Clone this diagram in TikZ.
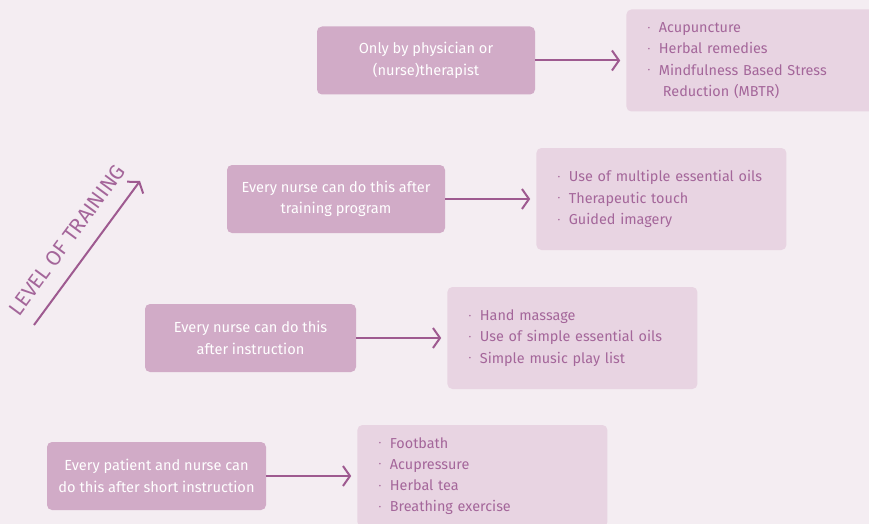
\documentclass[tikz,border=0pt]{standalone}
\usepackage{fontspec}
\setmainfont{Fira Sans}
\usetikzlibrary{arrows.meta, positioning}

\definecolor{bgpink}{HTML}{F4EDF2}
\definecolor{darkmauve}{HTML}{D1ABC7}
\definecolor{lightmauve}{HTML}{E8D4E2}
\definecolor{plum}{HTML}{A4669A}
\definecolor{arrowplum}{HTML}{9E5A90}

\newcommand{\itm}[1]{\makebox[11pt][l]{\raisebox{0.3ex}{\scriptsize\textbullet}}#1}

\begin{document}
\begin{tikzpicture}[
    x=1pt, y=-1pt,
    who/.style={fill=darkmauve, rounded corners=5pt, minimum height=68pt, align=center, text=white, font=\fontsize{14.6}{21.5}\selectfont},
    what/.style={fill=lightmauve, rounded corners=5pt, minimum width=250pt, minimum height=102pt, text width=207pt, align=left, text=plum, font=\fontsize{14.4}{21.2}\selectfont},
    arrow/.style={-{Straight Barb[length=7pt, width=20pt, line width=2pt]}, line width=2pt, draw=arrowplum, shorten >=6pt}
]
    \clip (0,0) rectangle (869,524);
    \fill[bgpink] (0,0) rectangle (869,524);

    % Who may apply it
    \node[who, minimum width=218pt] (physician) at (426,60.5) {Only by physician or\\(nurse)therapist};
    \node[who, minimum width=218pt] (training)  at (336,199)  {Every nurse can do this after\\training program};
    \node[who, minimum width=211pt] (instruct)  at (250.5,338) {Every nurse can do this\\after instruction};
    \node[who, minimum width=219pt] (patient)   at (156.5,476) {Every patient and nurse can\\do this after short instruction};

    % Interventions
    \node[what, right=91pt of physician] (listA) {\itm{Acupuncture}\\\itm{Herbal remedies}\\\itm{Mindfulness Based Stress}\\\hspace*{15pt}Reduction (MBTR)};
    \node[what, right=91pt of training]  (listB) {\itm{Use of multiple essential oils}\\\itm{Therapeutic touch}\\\itm{Guided imagery}};
    \node[what, right=91pt of instruct]  (listC) {\itm{Hand massage}\\\itm{Use of simple essential oils}\\\itm{Simple music play list}};
    \node[what, right=91pt of patient]   (listD) {\itm{Footbath}\\\itm{Acupressure}\\\itm{Herbal tea}\\\itm{Breathing exercise}};

    % Arrows
    \draw[arrow] (physician) -- (listA);
    \draw[arrow] (training)  -- (listB);
    \draw[arrow] (instruct)  -- (listC);
    \draw[arrow] (patient)   -- (listD);

    % Level of training
    \coordinate (lowlevel)  at (34,325);
    \coordinate (highlevel) at (140,181);
    \draw[arrow, shorten >=0pt] (lowlevel) -- (highlevel);
    \node[text=plum, rotate=53.6, font=\fontsize{21}{21}\selectfont] (level) at (67,240) {LEVEL OF TRAINING};
\end{tikzpicture}
\end{document}
